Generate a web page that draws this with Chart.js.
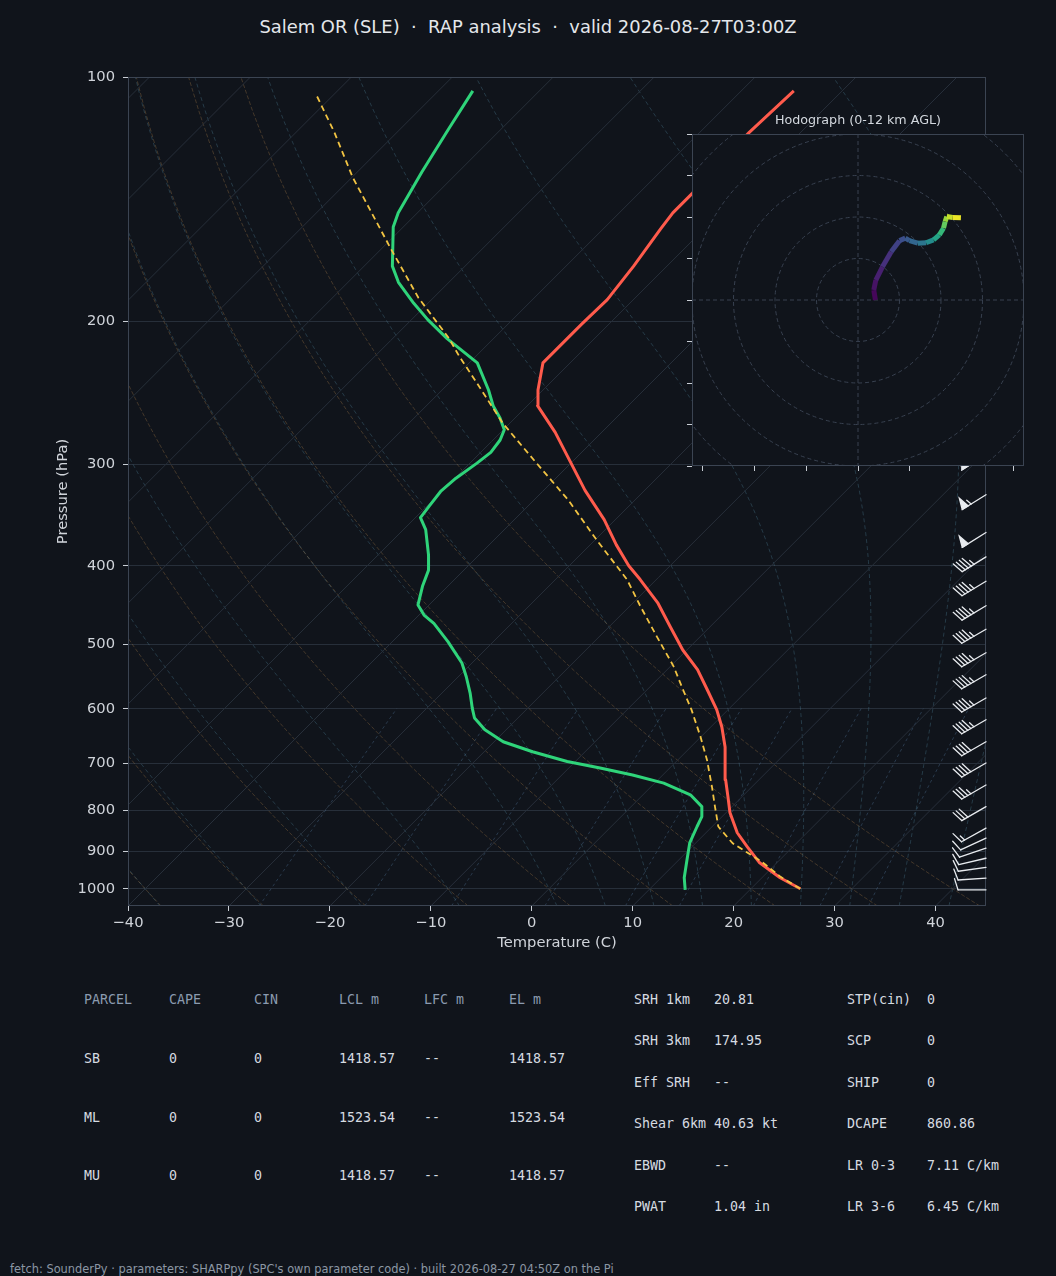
<!DOCTYPE html>
<html>
<head>
<meta charset="utf-8">
<title>Salem OR (SLE) sounding</title>
<script src="https://cdn.jsdelivr.net/npm/chart.js@4.4.1/dist/chart.umd.min.js"></script>
<style>
  html, body { margin: 0; padding: 0; background: #10141b; }
  body { position: relative; width: 1056px; height: 1276px; overflow: hidden; font-family: "DejaVu Sans", sans-serif; }
  canvas { position: absolute; }
  #skewt { left: 0; top: 0; }
  #hodo { left: 660px; top: 100px; }
  .txt { position: absolute; white-space: pre; }
  #title { left: 0; width: 1056px; top: 15px; text-align: center; font-size: 17.9px; line-height: 24px; color: #e4e7eb; }
  #hodoTitle { left: 692px; width: 332px; top: 112px; text-align: center; font-size: 12.7px; line-height: 16px; color: #d3d8de; }
  .mono { font-family: "DejaVu Sans Mono", monospace; font-size: 13.3px; line-height: 16px; color: #d6dbe1; }
  .head { color: #8b9bb0; }
  #footer { left: 10px; top: 1262px; font-size: 11.4px; line-height: 14px; color: #8c97a4; }
</style>
</head>
<body>
<div id="title" class="txt">Salem OR (SLE)  ·  RAP analysis  ·  valid 2026-08-27T03:00Z</div>
<canvas id="skewt" width="1056" height="960"></canvas>
<canvas id="hodo" width="390" height="400"></canvas>
<div id="hodoTitle" class="txt">Hodograph (0-12 km AGL)</div>
<div id="tables"></div>
<div id="footer" class="txt">fetch: SounderPy · parameters: SHARPpy (SPC's own parameter code) · built 2026-08-27 04:50Z on the Pi</div>

<script>
// sounding (hPa / degC)
var tempP = [1000, 969, 929, 888, 853, 806, 770, 734, 700, 669, 632, 602, 569, 537, 508, 476, 444, 416, 400, 377, 351, 323, 290, 274, 254, 243, 225, 201, 188, 171, 154, 147, 139, 117, 104];
var tempC = [24.9, 21.8, 18.3, 15.5, 13.1, 10.4, 8.6, 6.7, 5.0, 3.4, 1.1, -1.1, -4.0, -7.0, -10.4, -13.9, -17.6, -21.6, -24.1, -27.4, -31.1, -35.9, -41.6, -44.6, -49.0, -50.5, -52.7, -52.7, -52.6, -53.3, -54.3, -54.7, -54.7, -55.1, -54.8];

var dewP = [1003, 969, 921, 878, 838, 815, 792, 766, 741, 724, 710, 697, 678, 659, 637, 616, 599, 574, 548, 527, 496, 471, 460, 447, 424, 405, 388, 361, 349, 337, 324, 312, 299, 290, 280, 272, 263, 254, 243, 225, 210, 199, 190, 179, 171, 153, 147, 131, 116, 104];
var dewC = [13.6, 12.3, 10.8, 9.4, 8.5, 8.0, 7.0, 4.7, 0.9, -3.0, -6.9, -10.8, -15.2, -19.1, -22.1, -24.3, -25.5, -27.2, -29.2, -31.0, -34.5, -37.7, -39.5, -41.1, -42.5, -43.5, -45.0, -47.8, -49.5, -49.8, -50.1, -49.9, -49.3, -49.0, -49.3, -49.9, -51.5, -53.4, -55.4, -59.2, -64.6, -68.4, -71.4, -75.0, -77.2, -81.0, -81.9, -83.6, -85.2, -86.6];

var parcelP = [1000, 966, 925, 879, 846, 838, 792, 748, 694, 649, 602, 569, 532, 489, 449, 416, 372, 332, 299, 267, 238, 221, 210, 187, 163, 146, 133, 117, 105];
var parcelC = [24.9, 21.7, 18.3, 13.7, 11.2, 10.6, 8.3, 6.0, 2.9, -0.1, -3.6, -6.4, -9.7, -14.3, -18.9, -22.9, -29.8, -36.6, -43.4, -50.7, -57.3, -61.6, -64.4, -71.5, -79.0, -84.9, -89.9, -96.2, -101.8];

// wind barbs (kt, direction wind comes from)
var barbP = [1003, 970, 941, 917, 891, 866, 842, 792, 745, 700, 659, 619, 582, 545, 512, 479, 448, 418, 390, 364, 327, 292];
var barbKt = [10, 10, 10, 10, 10, 10, 15, 30, 35, 40, 40, 45, 45, 45, 45, 45, 45, 45, 45, 50, 55, 50];
var barbDir = [270, 266, 262, 257, 251, 245, 241, 240, 240, 240, 240, 240, 240, 240, 240, 240, 239, 239, 238, 238, 238, 238];

// hodograph trace
var hodoU = [4.2, 3.8, 4.3, 5.9, 8.0, 10.0, 11.4, 12.4, 14.4, 16.4, 18.2, 19.6, 20.6, 21.0, 21.4, 22.8, 24.8];
var hodoV = [0.0, 2.4, 4.8, 8.0, 11.6, 14.3, 14.9, 14.3, 13.7, 13.8, 14.5, 15.7, 17.3, 18.9, 20.1, 19.9, 19.8];
var hodoKm = [0, 0.4, 0.8, 1.3, 2.0, 2.7, 3.1, 3.5, 4.3, 5.0, 6.5, 7.4, 8.6, 9.6, 10.6, 11.3, 12];

// axes
var pressureTicks = [100, 200, 300, 400, 500, 600, 700, 800, 900, 1000];
var tempTicks = [-40, -30, -20, -10, 0, 10, 20, 30, 40];
var hodoXTicks = [-37.5, -25, -12.5, 0, 12.5, 25, 37.5];
var hodoYTicks = [-40, -30, -20, -10, 0, 10, 20, 30, 40];
var hodoRings = [10, 20, 30, 40, 50];

// background reference lines
var isotherms = [-120, -110, -100, -90, -80, -70, -60, -50, -40, -30, -20, -10, 0, 10, 20, 30, 40];
var dryAdiabatT0 = [-40, -30, -20, -10, 0, 10, 20, 30, 40];
var moistAdiabatT0 = [-40, -30, -20, -10, 0, 5, 10, 15, 20, 25, 30, 35, 40, 45];
var mixingRatios = [0.0004, 0.001, 0.002, 0.004, 0.007, 0.01, 0.016, 0.024, 0.032];

// tables
var parcelHead = ["PARCEL", "CAPE", "CIN", "LCL m", "LFC m", "EL m"];
var parcelRows = [
  ["SB", "0", "0", "1418.57", "--", "1418.57"],
  ["ML", "0", "0", "1523.54", "--", "1523.54"],
  ["MU", "0", "0", "1418.57", "--", "1418.57"]
];
var paramNames = ["SRH 1km", "SRH 3km", "Eff SRH", "Shear 6km", "EBWD", "PWAT"];
var paramValues = ["20.81", "174.95", "--", "40.63 kt", "--", "1.04 in"];
var paramNames2 = ["STP(cin)", "SCP", "SHIP", "DCAPE", "LR 0-3", "LR 3-6"];
var paramValues2 = ["0", "0", "0", "860.86", "7.11 C/km", "6.45 C/km"];

var PMIN = 100, PMAX = 1050, TMIN = -40, TMAX = 45;
var SKEW = 82.13; // 45 degree isotherms on this plot
var BG = "#10141b";
var FRAME = "#3b4452";
var TICK = "#c9ced5";
var LABEL = "#d0d4da";
var VIRIDIS = ["#440154", "#482878", "#3e4989", "#31688e", "#26828e", "#1f9e89", "#35b779", "#6ece58", "#b5de2b", "#fde725"];

function skewX(t, p) {
  return t + SKEW * Math.log(PMAX / p) / Math.log(PMAX / PMIN);
}

function profile(ps, ts) {
  return ps.map(function (p, i) { return { x: skewX(ts[i], p), y: p }; });
}

function dryAdiabat(t0) {
  var pts = [];
  for (var p = PMAX; p >= PMIN; p -= 10) {
    var t = (t0 + 273.15) * Math.pow(p / 1000, 0.2857) - 273.15;
    pts.push({ x: skewX(t, p), y: p });
  }
  return pts;
}

function moistDTdp(p, T) {
  var Rd = 287.04, Cp = 1005.7, Lv = 2.501e6, eps = 0.622;
  var es = 6.112 * Math.exp(17.67 * (T - 273.15) / (T - 29.65));
  var rs = eps * es / (p - es);
  return (Rd * T + Lv * rs) / (Cp + Lv * Lv * rs * eps / (Rd * T * T)) / p;
}

function moistStep(p, T, dp) {
  var k1 = moistDTdp(p, T);
  var k2 = moistDTdp(p + dp / 2, T + dp * k1 / 2);
  var k3 = moistDTdp(p + dp / 2, T + dp * k2 / 2);
  var k4 = moistDTdp(p + dp, T + dp * k3);
  return T + dp * (k1 + 2 * k2 + 2 * k3 + k4) / 6;
}

function moistAdiabat(t0) {
  var below = [], above = [];
  var T = t0 + 273.15;
  for (var p = 1000; p < PMAX; p += 5) {
    T = moistStep(p, T, 5);
    below.unshift({ x: skewX(T - 273.15, p + 5), y: p + 5 });
  }
  T = t0 + 273.15;
  for (p = 1000; p >= PMIN; p -= 5) {
    above.push({ x: skewX(T - 273.15, p), y: p });
    T = moistStep(p, T, -5);
  }
  return below.concat(above);
}

function mixingLine(w) {
  var pts = [];
  for (var p = PMAX; p >= 600; p -= 10) {
    var e = p * w / (0.622 + w);
    var l = Math.log(e / 6.112);
    var td = 243.5 * l / (17.67 - l);
    pts.push({ x: skewX(td, p), y: p });
  }
  return pts;
}

function refLine(data, color, dash) {
  return {
    data: data, showLine: true, pointRadius: 0, borderWidth: 1,
    borderColor: color, borderDash: dash, fill: false, order: 10
  };
}

var datasets = [
  { data: profile(parcelP, parcelC), showLine: true, pointRadius: 0, borderWidth: 1.8,
    borderColor: "#f2c443", borderDash: [6, 4], order: 0 },
  { data: profile(dewP, dewC), showLine: true, pointRadius: 0, borderWidth: 3,
    borderColor: "#2fd47a", borderJoinStyle: "round", order: 1 },
  { data: profile(tempP, tempC), showLine: true, pointRadius: 0, borderWidth: 3,
    borderColor: "#ff5b4c", borderJoinStyle: "round", order: 2 }
];
isotherms.forEach(function (t) {
  datasets.push(refLine([{ x: skewX(t, PMAX), y: PMAX }, { x: skewX(t, PMIN), y: PMIN }], "#272f3a", []));
});
dryAdiabatT0.forEach(function (t) {
  datasets.push(refLine(dryAdiabat(t), "rgba(190,140,80,0.30)", [4, 2]));
});
moistAdiabatT0.forEach(function (t) {
  datasets.push(refLine(moistAdiabat(t), "rgba(90,150,175,0.30)", [4, 3]));
});
mixingRatios.forEach(function (w) {
  datasets.push(refLine(mixingLine(w), "rgba(95,140,185,0.32)", [3, 3]));
});

function drawBarb(ctx, x0, y0, spd, dir) {
  var L = 28, h = 0.4 * L, w = 0.25 * L, sp = 0.125 * L;
  var r = dir * Math.PI / 180;
  var dx = Math.sin(r), dy = -Math.cos(r);
  var px = Math.cos(r), py = Math.sin(r);
  function pt(s, out) { return [x0 + dx * s + px * out, y0 + dy * s + py * out]; }
  var s5 = Math.round(spd / 5) * 5;
  var flags = Math.floor(s5 / 50);
  var rest = s5 - flags * 50;
  var full = Math.floor(rest / 10);
  var half = rest - full * 10 >= 5;

  ctx.beginPath();
  ctx.moveTo(x0, y0);
  var tip = pt(L, 0);
  ctx.lineTo(tip[0], tip[1]);
  ctx.stroke();

  var off = L;
  for (var i = 0; i < flags; i++) {
    var a = pt(off, 0), b = pt(off - w / 2, h), c = pt(off - w, 0);
    ctx.beginPath();
    ctx.moveTo(a[0], a[1]); ctx.lineTo(b[0], b[1]); ctx.lineTo(c[0], c[1]);
    ctx.closePath(); ctx.fill(); ctx.stroke();
    off -= w + sp;
  }
  for (i = 0; i < full; i++) {
    var s = pt(off, 0), e = pt(off + w / 2, h);
    ctx.beginPath(); ctx.moveTo(s[0], s[1]); ctx.lineTo(e[0], e[1]); ctx.stroke();
    off -= sp;
  }
  if (half) {
    if (off === L) off -= 1.5 * sp;
    var hs = pt(off, 0), he = pt(off + w / 4, h / 2);
    ctx.beginPath(); ctx.moveTo(hs[0], hs[1]); ctx.lineTo(he[0], he[1]); ctx.stroke();
  }
}

var skewFrame = {
  id: "skewFrame",
  afterDatasetsDraw: function (chart) {
    var ctx = chart.ctx, a = chart.chartArea;
    ctx.save();
    ctx.strokeStyle = FRAME;
    ctx.lineWidth = 1;
    ctx.strokeRect(a.left + 0.5, a.top + 0.5, a.right - a.left - 1, a.bottom - a.top - 1);
    ctx.strokeStyle = "#e8ebef";
    ctx.fillStyle = "#e8ebef";
    ctx.lineWidth = 1.3;
    ctx.lineCap = "round";
    barbP.forEach(function (p, i) {
      drawBarb(ctx, a.right, chart.scales.y.getPixelForValue(p), barbKt[i], barbDir[i]);
    });
    ctx.restore();
  }
};

new Chart(document.getElementById("skewt"), {
  type: "scatter",
  data: { datasets: datasets },
  options: {
    responsive: false,
    animation: false,
    events: [],
    devicePixelRatio: 1,
    layout: { padding: { top: 77, right: 70, bottom: 0, left: 50 } },
    plugins: { legend: { display: false }, tooltip: { enabled: false } },
    elements: { line: { tension: 0 } },
    scales: {
      x: {
        type: "linear", min: TMIN, max: TMAX,
        afterBuildTicks: function (s) { s.ticks = tempTicks.map(function (v) { return { value: v }; }); },
        afterFit: function (s) { s.height = 54; },
        ticks: {
          autoSkip: false, maxRotation: 0, padding: 3, color: LABEL,
          font: { family: "DejaVu Sans", size: 14.7 },
          callback: function (v) { return v < 0 ? "\u2212" + Math.abs(v) : String(v); }
        },
        grid: { drawOnChartArea: false, drawTicks: true, tickLength: 5, tickColor: TICK },
        border: { display: false },
        title: {
          display: true, text: "Temperature (C)", color: LABEL,
          font: { family: "DejaVu Sans", size: 14.7 }, padding: { top: 8, bottom: 8 }
        }
      },
      y: {
        type: "logarithmic", min: PMIN, max: PMAX, reverse: true,
        afterBuildTicks: function (s) { s.ticks = pressureTicks.map(function (v) { return { value: v }; }); },
        afterFit: function (s) { s.width = 78; },
        ticks: {
          autoSkip: false, padding: 8, color: LABEL,
          font: { family: "DejaVu Sans", size: 14.7 },
          callback: function (v) { return String(v); }
        },
        grid: { color: "#272f3a", lineWidth: 1, drawTicks: true, tickLength: 5, tickColor: TICK },
        border: { display: false },
        title: {
          display: true, text: "Pressure (hPa)", color: LABEL,
          font: { family: "DejaVu Sans", size: 14.7 }, padding: { top: 4, bottom: 4 }
        }
      }
    }
  },
  plugins: [skewFrame]
});

function hexToRgb(h) {
  return [parseInt(h.slice(1, 3), 16), parseInt(h.slice(3, 5), 16), parseInt(h.slice(5, 7), 16)];
}

function viridis(f) {
  f = Math.max(0, Math.min(1, f));
  var n = VIRIDIS.length - 1;
  var i = Math.min(n - 1, Math.floor(f * n));
  var t = f * n - i;
  var a = hexToRgb(VIRIDIS[i]), b = hexToRgb(VIRIDIS[i + 1]);
  return "rgb(" + a.map(function (v, k) { return Math.round(v + (b[k] - v) * t); }).join(",") + ")";
}

var hodoGrid = {
  id: "hodoGrid",
  beforeDraw: function (chart) {
    var ctx = chart.ctx, a = chart.chartArea;
    ctx.save();
    ctx.fillStyle = BG;
    ctx.fillRect(a.left, a.top, a.right - a.left, a.bottom - a.top);
    ctx.restore();
  },
  beforeDatasetsDraw: function (chart) {
    var ctx = chart.ctx, a = chart.chartArea, x = chart.scales.x, y = chart.scales.y;
    var cx = x.getPixelForValue(0), cy = y.getPixelForValue(0);
    ctx.save();
    ctx.beginPath();
    ctx.rect(a.left, a.top, a.right - a.left, a.bottom - a.top);
    ctx.clip();
    ctx.strokeStyle = "#384150";
    ctx.lineWidth = 1;
    ctx.setLineDash([4, 3]);
    hodoRings.forEach(function (r) {
      ctx.beginPath();
      ctx.arc(cx, cy, x.getPixelForValue(r) - cx, 0, Math.PI * 2);
      ctx.stroke();
    });
    ctx.beginPath();
    ctx.moveTo(a.left, cy); ctx.lineTo(a.right, cy);
    ctx.moveTo(cx, a.top); ctx.lineTo(cx, a.bottom);
    ctx.stroke();
    ctx.restore();
  },
  afterDatasetsDraw: function (chart) {
    var ctx = chart.ctx, a = chart.chartArea;
    ctx.save();
    ctx.strokeStyle = FRAME;
    ctx.lineWidth = 1;
    ctx.strokeRect(a.left + 0.5, a.top + 0.5, a.right - a.left - 1, a.bottom - a.top - 1);
    ctx.restore();
  }
};

new Chart(document.getElementById("hodo"), {
  type: "scatter",
  data: {
    datasets: [{
      data: hodoU.map(function (u, i) { return { x: u, y: hodoV[i] }; }),
      showLine: true, pointRadius: 0, borderWidth: 5, borderCapStyle: "butt",
      borderColor: VIRIDIS[0],
      segment: {
        borderColor: function (c) {
          return viridis((hodoKm[c.p0DataIndex] + hodoKm[c.p1DataIndex]) / 24);
        }
      }
    }]
  },
  options: {
    responsive: false,
    animation: false,
    events: [],
    devicePixelRatio: 1,
    layout: { padding: { left: 27, right: 26, top: 34, bottom: 29 } },
    plugins: { legend: { display: false }, tooltip: { enabled: false } },
    scales: {
      x: {
        type: "linear", min: -40, max: 40,
        afterBuildTicks: function (s) { s.ticks = hodoXTicks.map(function (v) { return { value: v }; }); },
        afterFit: function (s) { s.height = 5; },
        ticks: { display: false },
        grid: { drawOnChartArea: false, drawTicks: true, tickLength: 5, tickColor: TICK },
        border: { display: false }
      },
      y: {
        type: "linear", min: -40, max: 40,
        afterBuildTicks: function (s) { s.ticks = hodoYTicks.map(function (v) { return { value: v }; }); },
        afterFit: function (s) { s.width = 5; },
        ticks: { display: false },
        grid: { drawOnChartArea: false, drawTicks: true, tickLength: 5, tickColor: TICK },
        border: { display: false }
      }
    }
  },
  plugins: [hodoGrid]
});

// parameter tables
var tables = document.getElementById("tables");
function cell(text, x, yCenter, cls) {
  var d = document.createElement("div");
  d.className = "txt mono" + (cls ? " " + cls : "");
  d.style.left = x + "px";
  d.style.top = (yCenter - 8) + "px";
  d.textContent = text;
  tables.appendChild(d);
}
parcelHead.forEach(function (t, c) { cell(t, 84 + 85 * c, 1000, "head"); });
parcelRows.forEach(function (row, r) {
  row.forEach(function (t, c) { cell(t, 84 + 85 * c, 1059 + 58.7 * r); });
});
paramNames.forEach(function (t, r) {
  var y = 1000 + 41.4 * r;
  cell(t, 634, y);
  cell(paramValues[r], 714, y);
  cell(paramNames2[r], 847, y);
  cell(paramValues2[r], 927, y);
});
</script>
</body>
</html>
